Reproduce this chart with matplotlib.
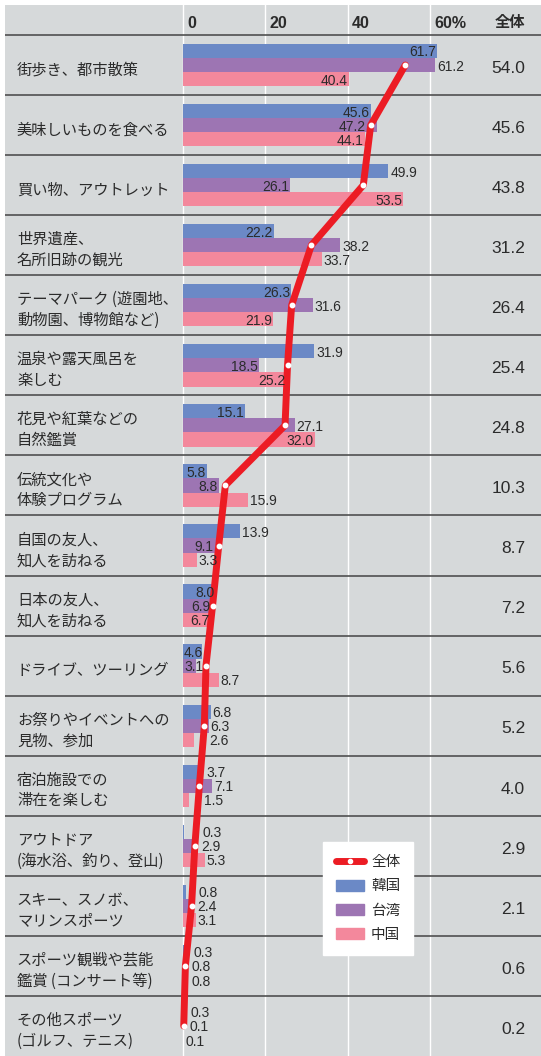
import numpy as np
import matplotlib.pyplot as plt
from matplotlib.patches import Patch
from matplotlib.lines import Line2D

plt.rcParams['font.family'] = ['Noto Sans CJK JP', 'DejaVu Sans']

categories = [
    '街歩き、都市散策',
    '美味しいものを食べる',
    '買い物、アウトレット',
    '世界遺産、\n名所旧跡の観光',
    'テーマパーク (遊園地、\n動物園、博物館など)',
    '温泉や露天風呂を\n楽しむ',
    '花見や紅葉などの\n自然鑑賞',
    '伝統文化や\n体験プログラム',
    '自国の友人、\n知人を訪ねる',
    '日本の友人、\n知人を訪ねる',
    'ドライブ、ツーリング',
    'お祭りやイベントへの\n見物、参加',
    '宿泊施設での\n滞在を楽しむ',
    'アウトドア\n(海水浴、釣り、登山)',
    'スキー、スノボ、\nマリンスポーツ',
    'スポーツ観戦や芸能\n鑑賞 (コンサート等)',
    'その他スポーツ\n(ゴルフ、テニス)',
]
total = [54.0, 45.6, 43.8, 31.2, 26.4, 25.4, 24.8, 10.3, 8.7, 7.2, 5.6, 5.2, 4.0, 2.9, 2.1, 0.6, 0.2]
korea = [61.7, 45.6, 49.9, 22.2, 26.3, 31.9, 15.1, 5.8, 13.9, 8.0, 4.6, 6.8, 3.7, 0.3, 0.8, 0.3, 0.3]
taiwan = [61.2, 47.2, 26.1, 38.2, 31.6, 18.5, 27.1, 8.8, 9.1, 6.9, 3.1, 6.3, 7.1, 2.9, 2.4, 0.8, 0.1]
china = [40.4, 44.1, 53.5, 33.7, 21.9, 25.2, 32.0, 15.9, 3.3, 6.7, 8.7, 2.6, 1.5, 5.3, 3.1, 0.8, 0.1]
series_names = ['全体', '韓国', '台湾', '中国']
x_ticks = [0, 20, 40, 60]
x_tick_labels = ['0', '20', '40', '60%']

# where each value label sits:
# 'i' inside bar end, 'o' just after the bar, 'l' left of the red line, 'r' right of the red line
korea_pos = ['i', 'i', 'o', 'i', 'i', 'o', 'i', 'i', 'o', 'i', 'i', 'r', 'r', 'r', 'r', 'r', 'r']
taiwan_pos = ['o', 'l', 'i', 'o', 'o', 'i', 'o', 'i', 'l', 'i', 'i', 'r', 'o', 'r', 'r', 'r', 'r']
china_pos = ['i', 'i', 'i', 'o', 'i', 'i', 'i', 'o', 'o', 'i', 'o', 'r', 'r', 'o', 'o', 'r', 'o']

C_BG = '#d6d9da'
C_KOREA = '#6b89c6'
C_TAIWAN = '#9d75b3'
C_CHINA = '#f3889c'
C_RED = '#ec1c24'
C_TEXT = '#2b2b2b'
NUM_FONT = 'Liberation Sans'

fig = plt.figure(figsize=(5.41, 10.56), dpi=100)
ax = fig.add_axes([5 / 541, 0, 536 / 541, 1051 / 1056])
ax.set_facecolor(C_BG)
ax.set_xlim(-43.2, 86.95)
ax.set_ylim(17, -0.5)
for s in ax.spines.values():
    s.set_visible(False)
ax.set_xticks([])
ax.set_yticks([])

n = len(categories)
y = np.arange(n) + 0.5
h = 0.235

# grid and row separators
for g in x_ticks:
    ax.axvline(g, color='white', lw=1.0, zorder=1)
for b in range(n):
    ax.axhline(b, color='#505050', lw=1.2, zorder=2)

ax.barh(y - h, korea, height=h, color=C_KOREA, zorder=3)
ax.barh(y, taiwan, height=h, color=C_TAIWAN, zorder=3)
ax.barh(y + h, china, height=h, color=C_CHINA, zorder=3)

ax.plot(total, y, color=C_RED, lw=5, solid_capstyle='round', solid_joinstyle='round',
        marker='o', ms=3.2, mfc='white', mec='white', zorder=6)


def put_labels(vals, pos, yy):
    for v, p, yi in zip(vals, pos, yy):
        lx = np.interp(yi, y, total)  # red line position at this bar
        if p == 'i':
            x, ha = max(v - 0.3, 4.9), 'right'
        elif p == 'l':
            x, ha = lx - 1.3, 'right'
        elif p == 'r':
            x, ha = max(v + 0.4, lx + 1.5), 'left'
        else:
            x, ha = v + 0.45, 'left'
        ax.text(x, yi, f'{v:.1f}', ha=ha, va='center_baseline', fontsize=10,
                family=NUM_FONT, color=C_TEXT, zorder=7)


put_labels(korea, korea_pos, y - h)
put_labels(taiwan, taiwan_pos, y)
put_labels(china, china_pos, y + h)

for yi, cat, t in zip(y, categories, total):
    ax.text(-40.3, yi + 0.08, cat, ha='left', va='center', fontsize=11, color=C_TEXT,
            linespacing=1.3)
    ax.text(83.1, yi + 0.03, f'{t:.1f}', ha='right', va='center_baseline', fontsize=12.5,
            family=NUM_FONT, color=C_TEXT)

# header
for g, lab in zip(x_ticks, x_tick_labels):
    ax.text(g + 1.1, -0.21, lab, ha='left', va='center_baseline', fontsize=11.5,
            fontweight='bold', family=NUM_FONT, color=C_TEXT)
ax.text(83.1, -0.22, '全体', ha='right', va='center', fontsize=11, fontweight='bold',
        color=C_TEXT)

handles = [
    Line2D([], [], color=C_RED, lw=5, marker='o', ms=3, mfc='white', mec='white',
           solid_capstyle='round'),
    Patch(color=C_KOREA),
    Patch(color=C_TAIWAN),
    Patch(color=C_CHINA),
]
leg = ax.legend(handles, series_names, loc='upper left', bbox_to_anchor=(0.593, 0.2036),
                fontsize=10.5, frameon=True, fancybox=False, edgecolor='white',
                facecolor='white', framealpha=1, handlelength=1.9, handleheight=0.8,
                labelspacing=0.7, borderpad=0.9, handletextpad=0.5, borderaxespad=0)
leg.set_zorder(10)
for t in leg.get_texts():
    t.set_color(C_TEXT)

fig.savefig('out.png', dpi=100, facecolor='white')
